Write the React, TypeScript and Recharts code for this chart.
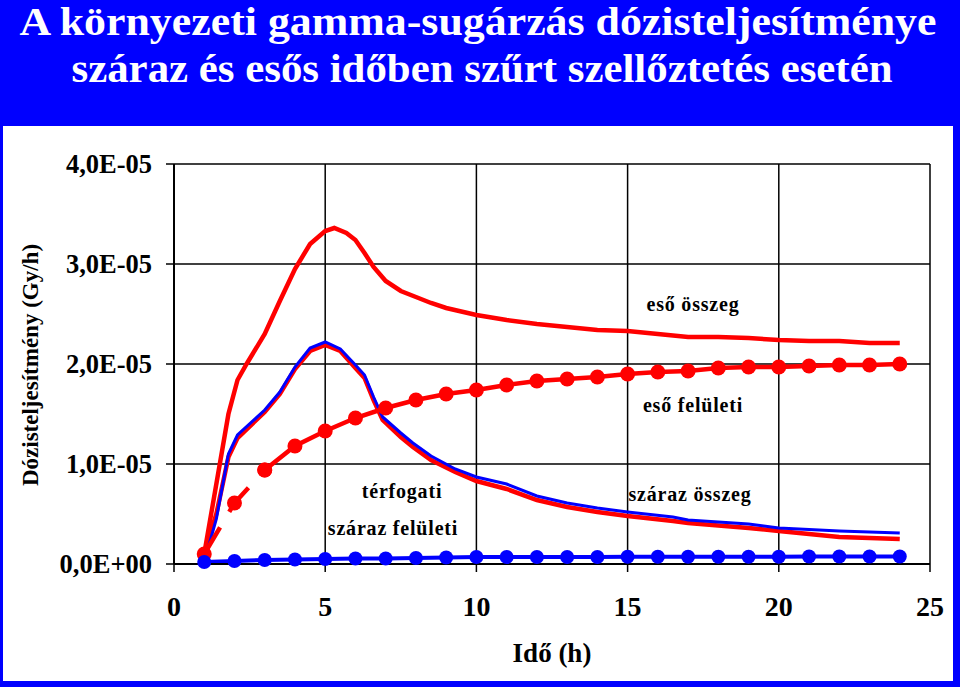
import React from 'react'
import { LineChart, Line, XAxis, YAxis, CartesianGrid } from 'recharts'

const RED = '#FF0000'
const BLUE = '#0000FF'
const FONT = '"Liberation Serif"'

// értékek E-05 Gy/h egységben
const hours = [1, 2, 3, 4, 5, 6, 7, 8, 9, 10, 11, 12, 13, 14, 15, 16, 17, 18, 19, 20, 21, 22, 23, 24]
const esoFeluleti = [0.1, 0.61, 0.94, 1.18, 1.33, 1.46, 1.56, 1.64, 1.7, 1.74, 1.79, 1.83, 1.85, 1.87, 1.9, 1.92, 1.93, 1.96, 1.97, 1.97, 1.98, 1.99, 1.99, 2.0]
const szarazFeluleti = [0.02, 0.03, 0.04, 0.045, 0.05, 0.055, 0.055, 0.06, 0.065, 0.07, 0.07, 0.07, 0.07, 0.07, 0.072, 0.072, 0.072, 0.072, 0.072, 0.072, 0.075, 0.075, 0.075, 0.075]

const esoOsszegX = [1, 1.8, 2.1, 2.4, 3, 3.5, 4, 4.5, 5, 5.3, 5.7, 6, 6.3, 6.6, 7, 7.5, 8, 8.5, 9, 10, 11, 12, 13, 14, 15, 16, 17, 18, 19, 20, 21, 22, 23, 24]
const esoOsszegY = [0.1, 1.5, 1.84, 2.0, 2.3, 2.63, 2.95, 3.2, 3.33, 3.36, 3.31, 3.24, 3.11, 2.97, 2.83, 2.73, 2.67, 2.61, 2.56, 2.49, 2.44, 2.4, 2.37, 2.34, 2.33, 2.3, 2.27, 2.27, 2.26, 2.24, 2.23, 2.23, 2.21, 2.21]

const terfogatiX = [1, 1.4, 1.8, 2.1, 3, 3.5, 4, 4.5, 5, 5.5, 6, 6.3, 6.6, 6.9, 7.5, 7.9, 8.5, 9.3, 10, 11, 12, 13, 14, 15, 16.5, 17, 19, 20, 22, 24]
const terfogatiY = [0.02, 0.45, 1.1, 1.29, 1.54, 1.72, 1.97, 2.16, 2.22, 2.15, 1.99, 1.89, 1.67, 1.47, 1.31, 1.21, 1.08, 0.95, 0.87, 0.8, 0.68, 0.61, 0.56, 0.52, 0.47, 0.44, 0.4, 0.36, 0.33, 0.31]

const szarazOsszegX = [1, 1.4, 1.8, 2.1, 3, 3.5, 4, 4.5, 5, 5.5, 6, 6.3, 6.6, 6.9, 7.5, 7.9, 8.5, 9.3, 10, 11, 12, 13, 14, 15, 16.5, 17, 19, 20, 21, 22, 23, 24]
const szarazOsszegY = [0.1, 0.5, 1.07, 1.26, 1.52, 1.7, 1.95, 2.13, 2.19, 2.13, 1.96, 1.86, 1.64, 1.44, 1.27, 1.17, 1.04, 0.92, 0.83, 0.75, 0.64, 0.57, 0.52, 0.48, 0.43, 0.41, 0.36, 0.33, 0.3, 0.27, 0.26, 0.25]

const xTicks = [0, 5, 10, 15, 20, 25]
const yTicks = [0, 1, 2, 3, 4]

const toPoints = (xs: number[], ys: number[]) => xs.map((x, i) => ({ x, y: ys[i] }))

const esoOsszegData = toPoints(esoOsszegX, esoOsszegY)
const terfogatiData = toPoints(terfogatiX, terfogatiY)
const szarazOsszegData = toPoints(szarazOsszegX, szarazOsszegY)
const esoFeluletiData = toPoints(hours, esoFeluleti)
const szarazFeluletiData = toPoints(hours, szarazFeluleti)

const fmtY = (v: number) => (v === 0 ? '0,0E+00' : `${v.toFixed(1).replace('.', ',')}E-05`)

const css = `
.dose-chart, .dose-chart text, .dose-chart tspan { font-family: "Liberation Serif" !important; font-weight: 700; }
`

export default function App() {
  return (
    <div className="dose-chart" style={{ position: 'absolute', left: 0, top: 0, width: 960, height: 687, background: BLUE, overflow: 'hidden', fontFamily: FONT, fontWeight: 700 }}>
      <style>{css}</style>
      <div style={{ position: 'absolute', left: 3, top: 126, width: 950, height: 555, background: '#fff' }} />
      <svg width={960} height={126} style={{ position: 'absolute', left: 0, top: 0 }}>
        <text x={478} y={35} textAnchor="middle" fill="#fff" fontSize={39}
          textLength={917} lengthAdjust="spacingAndGlyphs">
          A környezeti gamma-sugárzás dózisteljesítménye
        </text>
        <text x={482} y={82} textAnchor="middle" fill="#fff" fontSize={39}
          textLength={821} lengthAdjust="spacingAndGlyphs">
          száraz és esős időben szűrt szellőztetés esetén
        </text>
      </svg>
      <div style={{ position: 'absolute', left: 0, top: 0 }}>
        <LineChart width={960} height={687} margin={{ top: 164, right: 30, bottom: 33, left: 0 }}>
          <CartesianGrid stroke="#000" strokeWidth={1.5} />
          <XAxis
            dataKey="x"
            type="number"
            domain={[0, 25]}
            ticks={xTicks}
            allowDuplicatedCategory={false}
            height={90}
            tickSize={8}
            tickMargin={24}
            axisLine={{ stroke: '#000', strokeWidth: 2 }}
            tickLine={{ stroke: '#000', strokeWidth: 1.5 }}
            tick={{ fontSize: 28, fill: '#000' }}
          />
          <YAxis
            type="number"
            domain={[0, 4]}
            ticks={yTicks}
            width={174}
            tickSize={8}
            tickMargin={14}
            tickFormatter={fmtY}
            axisLine={{ stroke: '#000', strokeWidth: 2 }}
            tickLine={{ stroke: '#000', strokeWidth: 1.5 }}
            tick={{ fontSize: 26.5, fill: '#000' }}
          />
          <Line data={esoOsszegData} dataKey="y" stroke={RED} strokeWidth={4.5} dot={false} activeDot={false} isAnimationActive={false} />
          <Line data={szarazOsszegData} dataKey="y" stroke={RED} strokeWidth={4.5} dot={false} activeDot={false} isAnimationActive={false} />
          <Line data={terfogatiData} dataKey="y" stroke={BLUE} strokeWidth={3} dot={false} activeDot={false} isAnimationActive={false} />
          <Line data={esoFeluletiData.slice(0, 3)} dataKey="y" stroke={RED} strokeWidth={4.5} strokeDasharray="31 18"
            dot={{ r: 7.5, fill: RED, stroke: RED, strokeWidth: 0 }} activeDot={false} isAnimationActive={false} />
          <Line data={esoFeluletiData.slice(2)} dataKey="y" stroke={RED} strokeWidth={4.5}
            dot={{ r: 7.5, fill: RED, stroke: RED, strokeWidth: 0 }} activeDot={false} isAnimationActive={false} />
          <Line data={szarazFeluletiData} dataKey="y" stroke={BLUE} strokeWidth={4}
            dot={{ r: 7, fill: BLUE, stroke: BLUE, strokeWidth: 0 }} activeDot={false} isAnimationActive={false} />
        </LineChart>
      </div>
      <svg width={960} height={687} style={{ position: 'absolute', left: 0, top: 0, pointerEvents: 'none' }}>
        <text x={693} y={311} textAnchor="middle" fontSize={20} letterSpacing={0.8}>eső összeg</text>
        <text x={693} y={412} textAnchor="middle" fontSize={20} letterSpacing={0.8}>eső felületi</text>
        <text x={690} y={501} textAnchor="middle" fontSize={20} letterSpacing={0.8}>száraz összeg</text>
        <text x={402} y={498} textAnchor="middle" fontSize={20} letterSpacing={0.8}>térfogati</text>
        <text x={393} y={535} textAnchor="middle" fontSize={20} letterSpacing={0.8}>száraz felületi</text>
        <text x={552} y={662} textAnchor="middle" fontSize={27}>Idő (h)</text>
        <text x={0} y={0} transform="translate(38 365) rotate(-90)" textAnchor="middle" fontSize={23}>
          Dózisteljesítmény (Gy/h)
        </text>
      </svg>
    </div>
  )
}
